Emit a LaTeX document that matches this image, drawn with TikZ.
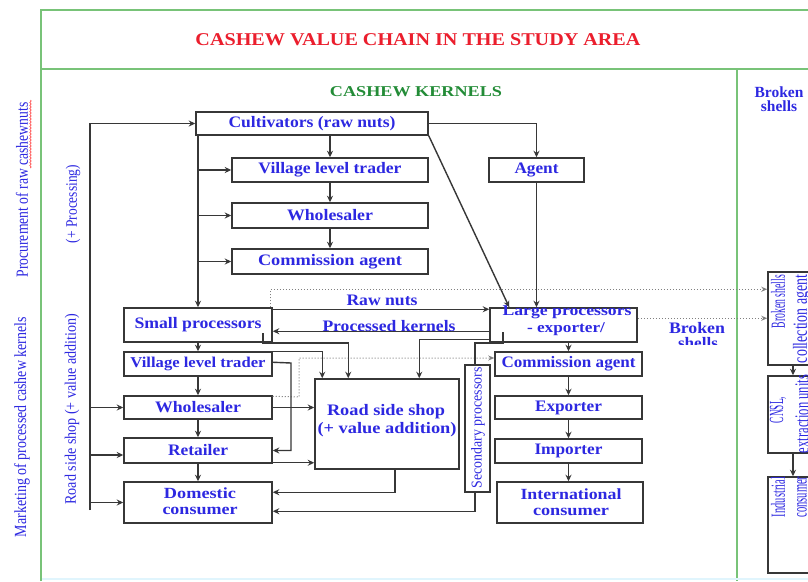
\documentclass[tikz,border=0pt]{standalone}
\usepackage{graphicx}
\usepackage{fontspec}
\setmainfont{Liberation Serif}
\usetikzlibrary{arrows.meta,calc,decorations.pathmorphing}
\definecolor{tblue}{RGB}{45,40,225}
\definecolor{tred}{RGB}{235,30,45}
\definecolor{tgreen}{RGB}{35,140,55}
\definecolor{fgreen}{RGB}{120,195,120}
\definecolor{lgray}{RGB}{55,55,55}
\newcommand{\fitto}[2]{\resizebox{#1}{\height}{#2}}
\newcommand{\fs}[1]{\fontsize{#1}{#1}\selectfont}
\begin{document}
\begin{tikzpicture}[x=1pt,y=-1pt,
 box/.style={draw=lgray,line width=1.5pt,inner sep=0pt,text=tblue,font=\bfseries},
 lab/.style={inner sep=0pt,text=tblue,font=\bfseries},
 vlab/.style={inner sep=0pt,text=tblue,rotate=90},
 conn/.style={draw=lgray,line width=1.4pt},
 arr/.style={conn,-{Stealth[length=6.5pt,width=6pt]}},
 dots/.style={draw=gray,line width=1pt,dotted,-{Stealth[length=6pt,width=5pt]}},
]
\useasboundingbox (0,0) rectangle (808,581);
\fill[white] (0,0) rectangle (808,581);

% frame
\draw[fgreen,line width=2pt] (41,581) -- (41,10) -- (808,10);
\draw[fgreen,line width=2pt] (41,69) -- (808,69);
\draw[fgreen,line width=2pt] (737,69) -- (737,581);
\draw[cyan!12,line width=1.5pt] (42,579) -- (808,579);

% headings
\node[inner sep=0pt,text=tred,font=\bfseries] (title) at (418,40) {\fs{18}\fitto{445pt}{CASHEW VALUE CHAIN IN THE STUDY AREA}};
\node[inner sep=0pt,text=tgreen,font=\bfseries] (kern) at (416,92) {\fs{15}\fitto{172pt}{CASHEW KERNELS}};
\node[lab] (bsh1) at (779,92) {\fs{15.5}Broken};
\node[lab] (bsh2) at (779,106) {\fs{15.5}shells};

% side labels
\node[vlab] (proc) at (22,190) {\fs{17}\fitto{175pt}{Procurement of raw cashewnuts}};
\draw[red!80,line width=0.6pt,decorate,decoration={snake,amplitude=0.7pt,segment length=3pt}] (30.5,100) -- (30.5,168);
\node[vlab] (plusp) at (73,204) {\fs{16}\fitto{78pt}{(+ Processing)}};
\node[vlab] (mark) at (22,427) {\fs{17}\fitto{220pt}{Marketing of processed cashew kernels}};
\node[vlab] (rssl) at (72,409) {\fs{16}\fitto{191pt}{Road side shop (+ value addition)}};

% upper boxes
\node[box,minimum width=232pt,minimum height=23pt] (cult) at (312,123.5) {\fs{16}\fitto{167pt}{Cultivators (raw nuts)}};
\node[box,minimum width=196pt,minimum height=24pt] (vlt1) at (330,170) {\fs{16}\fitto{143pt}{Village level trader}};
\node[box,minimum width=196pt,minimum height=25pt] (whs1) at (330,215.5) {\fs{16}\fitto{86pt}{Wholesaler}};
\node[box,minimum width=196pt,minimum height=25pt] (com1) at (330,261.5) {\fs{16}\fitto{144pt}{Commission agent}};
\node[box,minimum width=95pt,minimum height=24pt] (agent) at (536.5,170) {\fs{16}\fitto{44pt}{Agent}};

% lower left boxes
\node[box,minimum width=148pt,minimum height=34pt] (sp) at (198,325) {\fs{16}\fitto{127pt}{Small processors}};
\node[box,minimum width=148pt,minimum height=24pt] (vlt2) at (198,364) {\fs{15}\fitto{135pt}{Village level trader}};
\node[box,minimum width=148pt,minimum height=23pt] (whs2) at (198,407.5) {\fs{16}\fitto{86pt}{Wholesaler}};
\node[box,minimum width=148pt,minimum height=25pt] (ret) at (198,450.5) {\fs{16}\fitto{60pt}{Retailer}};
\node[box,minimum width=148pt,minimum height=41pt] (dom) at (198,502.5) {};
\node[lab] (dom1) at (200,493) {\fs{15.5}\fitto{72pt}{Domestic}};
\node[lab] (dom2) at (200,511) {\fs{15.5}\fitto{75pt}{consumer}};
\node[box,minimum width=144pt,minimum height=90pt] (rss) at (387,424) {};
\node[lab] (rss1) at (386,412) {\fs{16}\fitto{118pt}{Road side shop}};
\node[lab] (rss2) at (387,430) {\fs{16}\fitto{139pt}{(+ value addition)}};
\node[box,minimum width=25pt,minimum height=127pt] (sec) at (477.5,428.5) {};
\node[vlab] (secl) at (478,428) {\fs{15}\fitto{121pt}{Secondary processors}};

% right chain
\node[box,minimum width=147pt,minimum height=34pt] (large) at (563.5,325) {};
\node[lab] (lg1) at (567,312) {\fs{15}\fitto{129pt}{Large processors}};
\node[lab] (lg2) at (566,329) {\fs{15}\fitto{78pt}{- exporter/}};
\node[box,minimum width=147pt,minimum height=24pt] (com2) at (568.5,364) {\fs{16}\fitto{134pt}{Commission agent}};
\node[box,minimum width=147pt,minimum height=23pt] (exp) at (568.5,407.5) {\fs{16}\fitto{67pt}{Exporter}};
\node[box,minimum width=147pt,minimum height=24pt] (imp) at (568.5,451) {\fs{16}\fitto{68pt}{Importer}};
\node[box,minimum width=146pt,minimum height=41pt] (intl) at (570,502.5) {};
\node[lab] (intl1) at (571,494) {\fs{15.5}\fitto{101pt}{International}};
\node[lab] (intl2) at (571,512) {\fs{15.5}\fitto{76pt}{consumer}};

% broken shells column
\node[box,minimum width=50pt,minimum height=93pt] (bsca) at (793,318.5) {};
\node[vlab] (bsca1) at (778,301.5) {\fs{20}\fitto{53pt}{Broken shells}};
\node[vlab] (bsca2) at (802,319) {\fs{20}\fitto{88pt}{collection agent}};
\node[box,minimum width=50pt,minimum height=77pt] (cnsl) at (793,414.5) {};
\node[vlab] (cnsl1) at (778,410) {\fs{20}\fitto{26pt}{CNSL,}};
\node[vlab] (cnsl2) at (802,414) {\fs{20}\fitto{78pt}{extraction units}};
\node[box,minimum width=50pt,minimum height=96pt] (ind) at (793,525) {};
\node[vlab] (ind1) at (778,497) {\fs{20}\fitto{40pt}{Industrial}};
\node[vlab] (ind2) at (802,497) {\fs{20}\fitto{41pt}{consumer}};

% labels on connectors
\node[lab] (rnl) at (382,300) {\fs{16}\fitto{71pt}{Raw nuts}};
\node[lab] (pkl) at (389,326.5) {\fs{16}\fitto{133pt}{Processed kernels}};
\node[lab] (bsm1) at (697,328) {\fs{16}\fitto{56pt}{Broken}};
\begin{scope}
\clip (660,334) rectangle (730,344);
\node[lab] (bsm2) at (698,343) {\fs{16}\fitto{40pt}{shells}};
\end{scope}

% outer left line
\coordinate (ob) at (90,510);
\coordinate (ot) at (90,123.5);
\draw[arr] (ob) -- (ot) -- (cult.west);
\draw[arr] (ob |- whs2.west) -- (whs2.west);
\coordinate (ora) at (90,455);
\draw[arr] (ora) -- (ora -| ret.west);
\draw[arr] (ob |- dom.west) -- (dom.west);

% inner line
\draw[arr] (sp.north |- cult.south) -- (sp.north);
\draw[arr] (sp.north |- vlt1.west) -- (vlt1.west);
\draw[arr] (sp.north |- whs1.west) -- (whs1.west);
\draw[arr] (sp.north |- com1.west) -- (com1.west);

% chain 1
\draw[arr] (cult.south -| vlt1.north) -- (vlt1.north);
\draw[arr] (vlt1.south) -- (whs1.north);
\draw[arr] (whs1.south) -- (com1.north);

% agent and large processors
\draw[arr] (cult.east) -| (agent.north);
\draw[arr] (agent.south) -- (agent.south |- large.north);
\coordinate (lgt) at ($(large.north west)+(20,0)$);
\draw[arr] (cult.south east) -- (lgt);

% chain 2
\draw[arr] (sp.south) -- (vlt2.north);
\draw[arr] (vlt2.south) -- (whs2.north);
\draw[arr] (whs2.south) -- (ret.north);
\draw[arr] (ret.south) -- (dom.north);

% right chain
\draw[arr] (large.south -| com2.north) -- (com2.north);
\draw[arr] (com2.south) -- (exp.north);
\draw[arr] (exp.south) -- (imp.north);
\draw[arr] (imp.south) -- (imp.south |- intl.north);

% raw nuts / processed kernels
\coordinate (rn) at ($(sp.north east)+(0,2)$);
\draw[arr] (rn) -- (rn -| large.west);
\coordinate (pk) at ($(large.north west)+(0,24)$);
\draw[arr] (pk) -- (pk -| sp.east);

% dotted connectors
\coordinate (d1) at ($(sp.north east)+(-2,0)$);
\coordinate (d1t) at ($(sp.north east)+(-2,-18)$);
\draw[dots] (d1) -- (d1t) -- (d1t -| bsca.west);
\coordinate (d2) at ($(large.north east)+(0,11)$);
\draw[dots] (d2) -- (d2 -| bsca.west);
\coordinate (d3) at ($(whs2.north east)+(0,1)$);
\coordinate (d3b) at (299,397);
\coordinate (d3c) at (299,358);
\draw[dots] (d3) -- (d3b) -- (d3c) -- (d3c -| com2.west);

% VLT2 -> retailer
\coordinate (v1) at ($(vlt2.north east)+(0,11)$);
\coordinate (v1b) at (291,363);
\draw[arr] (v1) -- (v1b) |- (ret.east);

% into road side shop from top
\coordinate (rssA) at ($(rss.north west)+(8,0)$);
\draw[arr] (vlt2.north east) -| (rssA);
\coordinate (s1) at (263,333);
\coordinate (s2) at (263,343);
\coordinate (rssB) at ($(rss.north west)+(34,0)$);
\draw[arr] (s1) -- (s2) -| (rssB);
\coordinate (l1) at ($(large.north west)+(0,32)$);
\coordinate (rssC) at ($(rss.north west)+(105,0)$);
\draw[arr] (l1) -| (rssC);

% large -> secondary processors
\coordinate (l2) at (503,332);
\coordinate (l3) at (503,343);
\coordinate (sect) at (475,365);
\draw[conn] (l2) -- (l3) -| (sect);

% into road side shop from left
\draw[arr] (whs2.east) -- (whs2.east -| rss.west);
\coordinate (r1) at ($(ret.south east)+(0,-1)$);
\draw[arr] (r1) -- (r1 -| rss.west);

% to domestic consumer
\coordinate (q1) at ($(rss.south)+(8,0)$);
\coordinate (q2) at ($(dom.north east)+(0,11)$);
\draw[arr] (q1) |- (q2);
\coordinate (q3) at ($(dom.north east)+(0,30)$);
\coordinate (secb) at (475,492);
\draw[arr] (secb) |- (q3);

% broken shells column
\draw[arr] (bsca.south) -- (cnsl.north);
\draw[arr] (cnsl.south) -- (ind.north);
\end{tikzpicture}
\end{document}
